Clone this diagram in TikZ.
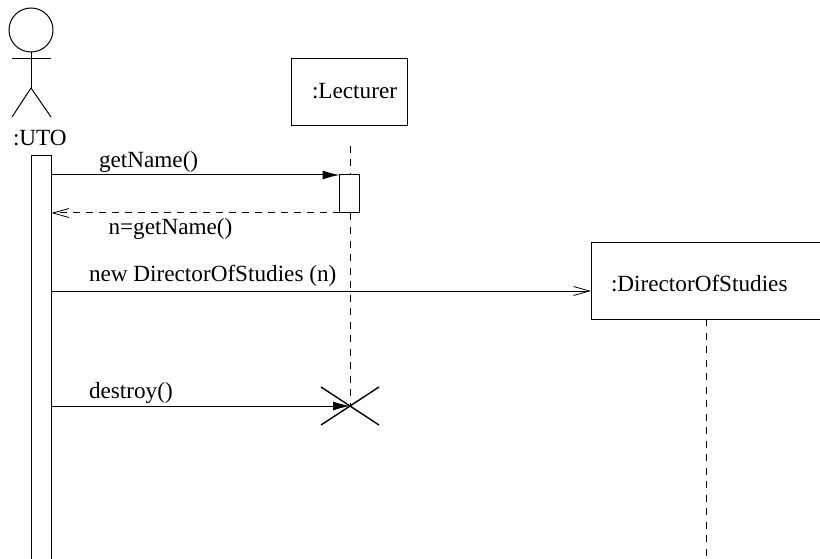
\documentclass[tikz,border=0pt]{standalone}
\usepackage{fontspec}
\setmainfont{Liberation Serif}
\usetikzlibrary{arrows.meta}
\begin{document}
\begin{tikzpicture}[x=1pt,y=-1pt,line width=1pt,
  objbox/.style={draw,rectangle,inner sep=0pt,outer sep=0pt,fill=white},
  lbl/.style={inner sep=0pt,outer sep=0pt,font=\fontsize{23.2pt}{25pt}\selectfont,anchor=base west},
  life/.style={dash pattern=on 7pt off 6.5pt},
  solidtip/.style={-{Latex[length=17pt,width=9pt]}},
  opentip/.style={-{Straight Barb[length=16pt,width=9pt,line width=0.8pt]}}]
\useasboundingbox (0,0) rectangle (820,559);
% actor
\node[draw,circle,inner sep=0pt,outer sep=0pt,minimum size=44pt] (head) at (31,30) {};
\coordinate (hip) at (31,88);
\coordinate (armL) at (12,59);
\coordinate (armR) at (51,59);
\coordinate (legL) at (12,117);
\coordinate (legR) at (51,117);
\draw (head.south) -- (hip);
\draw (armL) -- (armR);
\draw (legL) -- (hip) -- (legR);
\node[lbl] (uto) at (13,146) {:UTO};
% UTO activation bar
\coordinate (barBL) at (31.5,559);
\coordinate (barTL) at (31.5,155.5);
\coordinate (barTR) at (51,155.5);
\coordinate (barBR) at (51,559);
\draw (barBL) -- (barTL) -- (barTR) -- (barBR);
\coordinate (u1) at (51,175);
\coordinate (u2) at (51.5,213);
\coordinate (u3) at (51,291);
\coordinate (u4) at (51,406);
% objects
\node[objbox,minimum width=116pt,minimum height=67pt] (lect) at (349.5,92.5) {};
\node[lbl] (lecttext) at (312,98.5) {:Lecturer};
\node[objbox,minimum width=232pt,minimum height=77pt] (dos) at (707,280.5) {};
\node[lbl] (dostext) at (611,291) {:DirectorOfStudies};
% lifelines
\coordinate (lifeTop) at (350,146);
\coordinate (death) at (350,406);
\coordinate (dosEnd) at (706,559);
\draw[life] (lifeTop) -- (death);
\draw[life] (dos.south -| dosEnd) -- (dosEnd);
% activation on lecturer
\node[objbox,minimum width=20pt,minimum height=38pt] (act) at (349.5,194) {};
% X
\coordinate (xa) at (321,387);
\coordinate (xb) at (379,425);
\coordinate (xc) at (321,425);
\coordinate (xd) at (379,387);
\draw[line width=1.4pt] (xa) -- (xb);
\draw[line width=1.4pt] (xc) -- (xd);
% messages
\draw[solidtip] (u1) -- (act.north west);
\draw[opentip,dash pattern=on 7pt off 6pt] (act.south west) -- (u2);
\draw[opentip] (u3) -- (u3 -| dos.west);
\draw[solidtip] (u4) -- (death);
% labels
\node[lbl] (m1) at (99,168) {getName()};
\node[lbl] (m2) at (108.5,234.5) {n=getName()};
\node[lbl] (m3) at (89,281) {new DirectorOfStudies (n)};
\node[lbl] (m4) at (89,398) {destroy()};
\end{tikzpicture}
\end{document}
